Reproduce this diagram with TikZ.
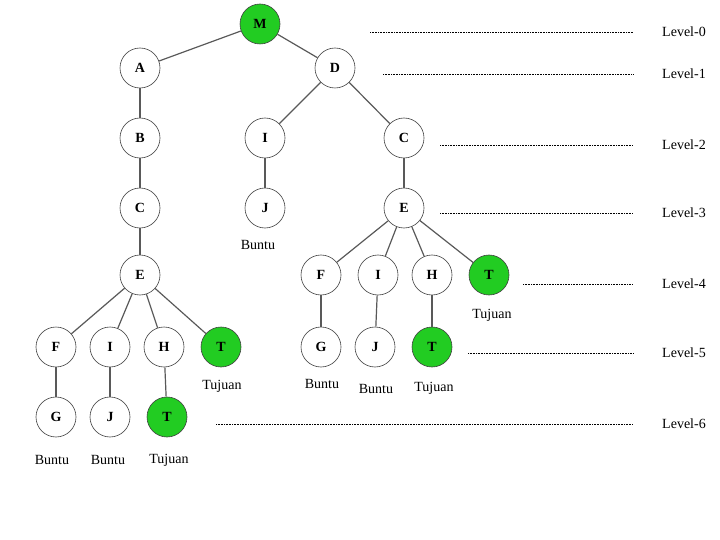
\documentclass[tikz,border=0pt]{standalone}
\usepackage{fontspec}
\setmainfont{Liberation Serif}
\definecolor{goalgreen}{RGB}{34,204,34}
\tikzset{
	state/.style={circle,draw=black!75,line width=0.6pt,minimum size=40pt,inner sep=0pt,font=\fontsize{14}{16}\selectfont\bfseries},
	goal/.style={state,fill=goalgreen},
	edge/.style={draw=black!65,line width=1.2pt},
	lvl/.style={densely dotted,line width=0.6pt},
	tag/.style={font=\fontsize{14}{16}\selectfont}
}
\begin{document}
\begin{tikzpicture}[x=1pt,y=-1pt]
				\useasboundingbox (0,0) rectangle (720,540);
				% level 0 - 1
				\node[goal] (M) at (260,24) {M};
				\node[state] (A) at (140,68) {A};
				\node[state] (D) at (335,68) {D};
				% level 2 - 3
				\node[state] (B) at (140,138) {B};
				\node[state] (I1) at (265,138) {I};
				\node[state] (C2) at (404,138) {C};
				\node[state] (C1) at (140,208) {C};
				\node[state] (J1) at (265,208) {J};
				\node[state] (E2) at (404,208) {E};
				% level 4
				\node[state] (E1) at (140,275) {E};
				\node[state] (F2) at (321,275) {F};
				\node[state] (I3) at (378,275) {I};
				\node[state] (H2) at (432,275) {H};
				\node[goal] (T4) at (489,275) {T};
				% level 5
				\node[state] (F1) at (56,347) {F};
				\node[state] (I2) at (110,347) {I};
				\node[state] (H1) at (164,347) {H};
				\node[goal] (T2) at (221,347) {T};
				\node[state] (G2) at (321,347) {G};
				\node[state] (J3) at (375,347) {J};
				\node[goal] (T5) at (432,347) {T};
				% level 6
				\node[state] (G1) at (56,417) {G};
				\node[state] (J2) at (110,417) {J};
				\node[goal] (T1) at (167,417) {T};
				% edges
				\draw[edge] (M) -- (A);
				\draw[edge] (M) -- (D);
				\draw[edge] (A) -- (B);
				\draw[edge] (B) -- (C1);
				\draw[edge] (C1) -- (E1);
				\draw[edge] (E1) -- (F1);
				\draw[edge] (E1) -- (I2);
				\draw[edge] (E1) -- (H1);
				\draw[edge] (E1) -- (T2);
				\draw[edge] (F1) -- (G1);
				\draw[edge] (I2) -- (J2);
				\draw[edge] (H1) -- (T1);
				\draw[edge] (D) -- (I1);
				\draw[edge] (D) -- (C2);
				\draw[edge] (I1) -- (J1);
				\draw[edge] (C2) -- (E2);
				\draw[edge] (E2) -- (F2);
				\draw[edge] (E2) -- (I3);
				\draw[edge] (E2) -- (H2);
				\draw[edge] (E2) -- (T4);
				\draw[edge] (F2) -- (G2);
				\draw[edge] (I3) -- (J3);
				\draw[edge] (H2) -- (T5);
				% notes
				\node[tag] (bJ1) at (258,245) {Buntu};
				\node[tag] (tT4) at (492,315) {Tujuan};
				\node[tag] (tT2) at (222,386) {Tujuan};
				\node[tag] (bG2) at (322,384) {Buntu};
				\node[tag] (bJ3) at (376,389) {Buntu};
				\node[tag] (tT5) at (434,388) {Tujuan};
				\node[tag] (bG1) at (52,460) {Buntu};
				\node[tag] (bJ2) at (108,460) {Buntu};
				\node[tag] (tT1) at (169,460) {Tujuan};
				% levels
				\node[tag] (L0) at (684,32) {Level-0};
				\node[tag] (L1) at (684,74) {Level-1};
				\node[tag] (L2) at (684,145) {Level-2};
				\node[tag] (L3) at (684,213) {Level-3};
				\node[tag] (L4) at (684,284) {Level-4};
				\node[tag] (L5) at (684,353) {Level-5};
				\node[tag] (L6) at (684,424) {Level-6};
				\coordinate (s0) at (370,32);
				\coordinate (s1) at (383,74);
				\coordinate (s2) at (440,145);
				\coordinate (s3) at (440,213);
				\coordinate (s4) at (523,284);
				\coordinate (s5) at (468,353);
				\coordinate (s6) at (216,424);
				\draw[lvl] (s0) -- (633,32);
				\draw[lvl] (s1) -- (633,74);
				\draw[lvl] (s2) -- (633,145);
				\draw[lvl] (s3) -- (633,213);
				\draw[lvl] (s4) -- (633,284);
				\draw[lvl] (s5) -- (633,353);
				\draw[lvl] (s6) -- (633,424);
			\end{tikzpicture}
\end{document}
